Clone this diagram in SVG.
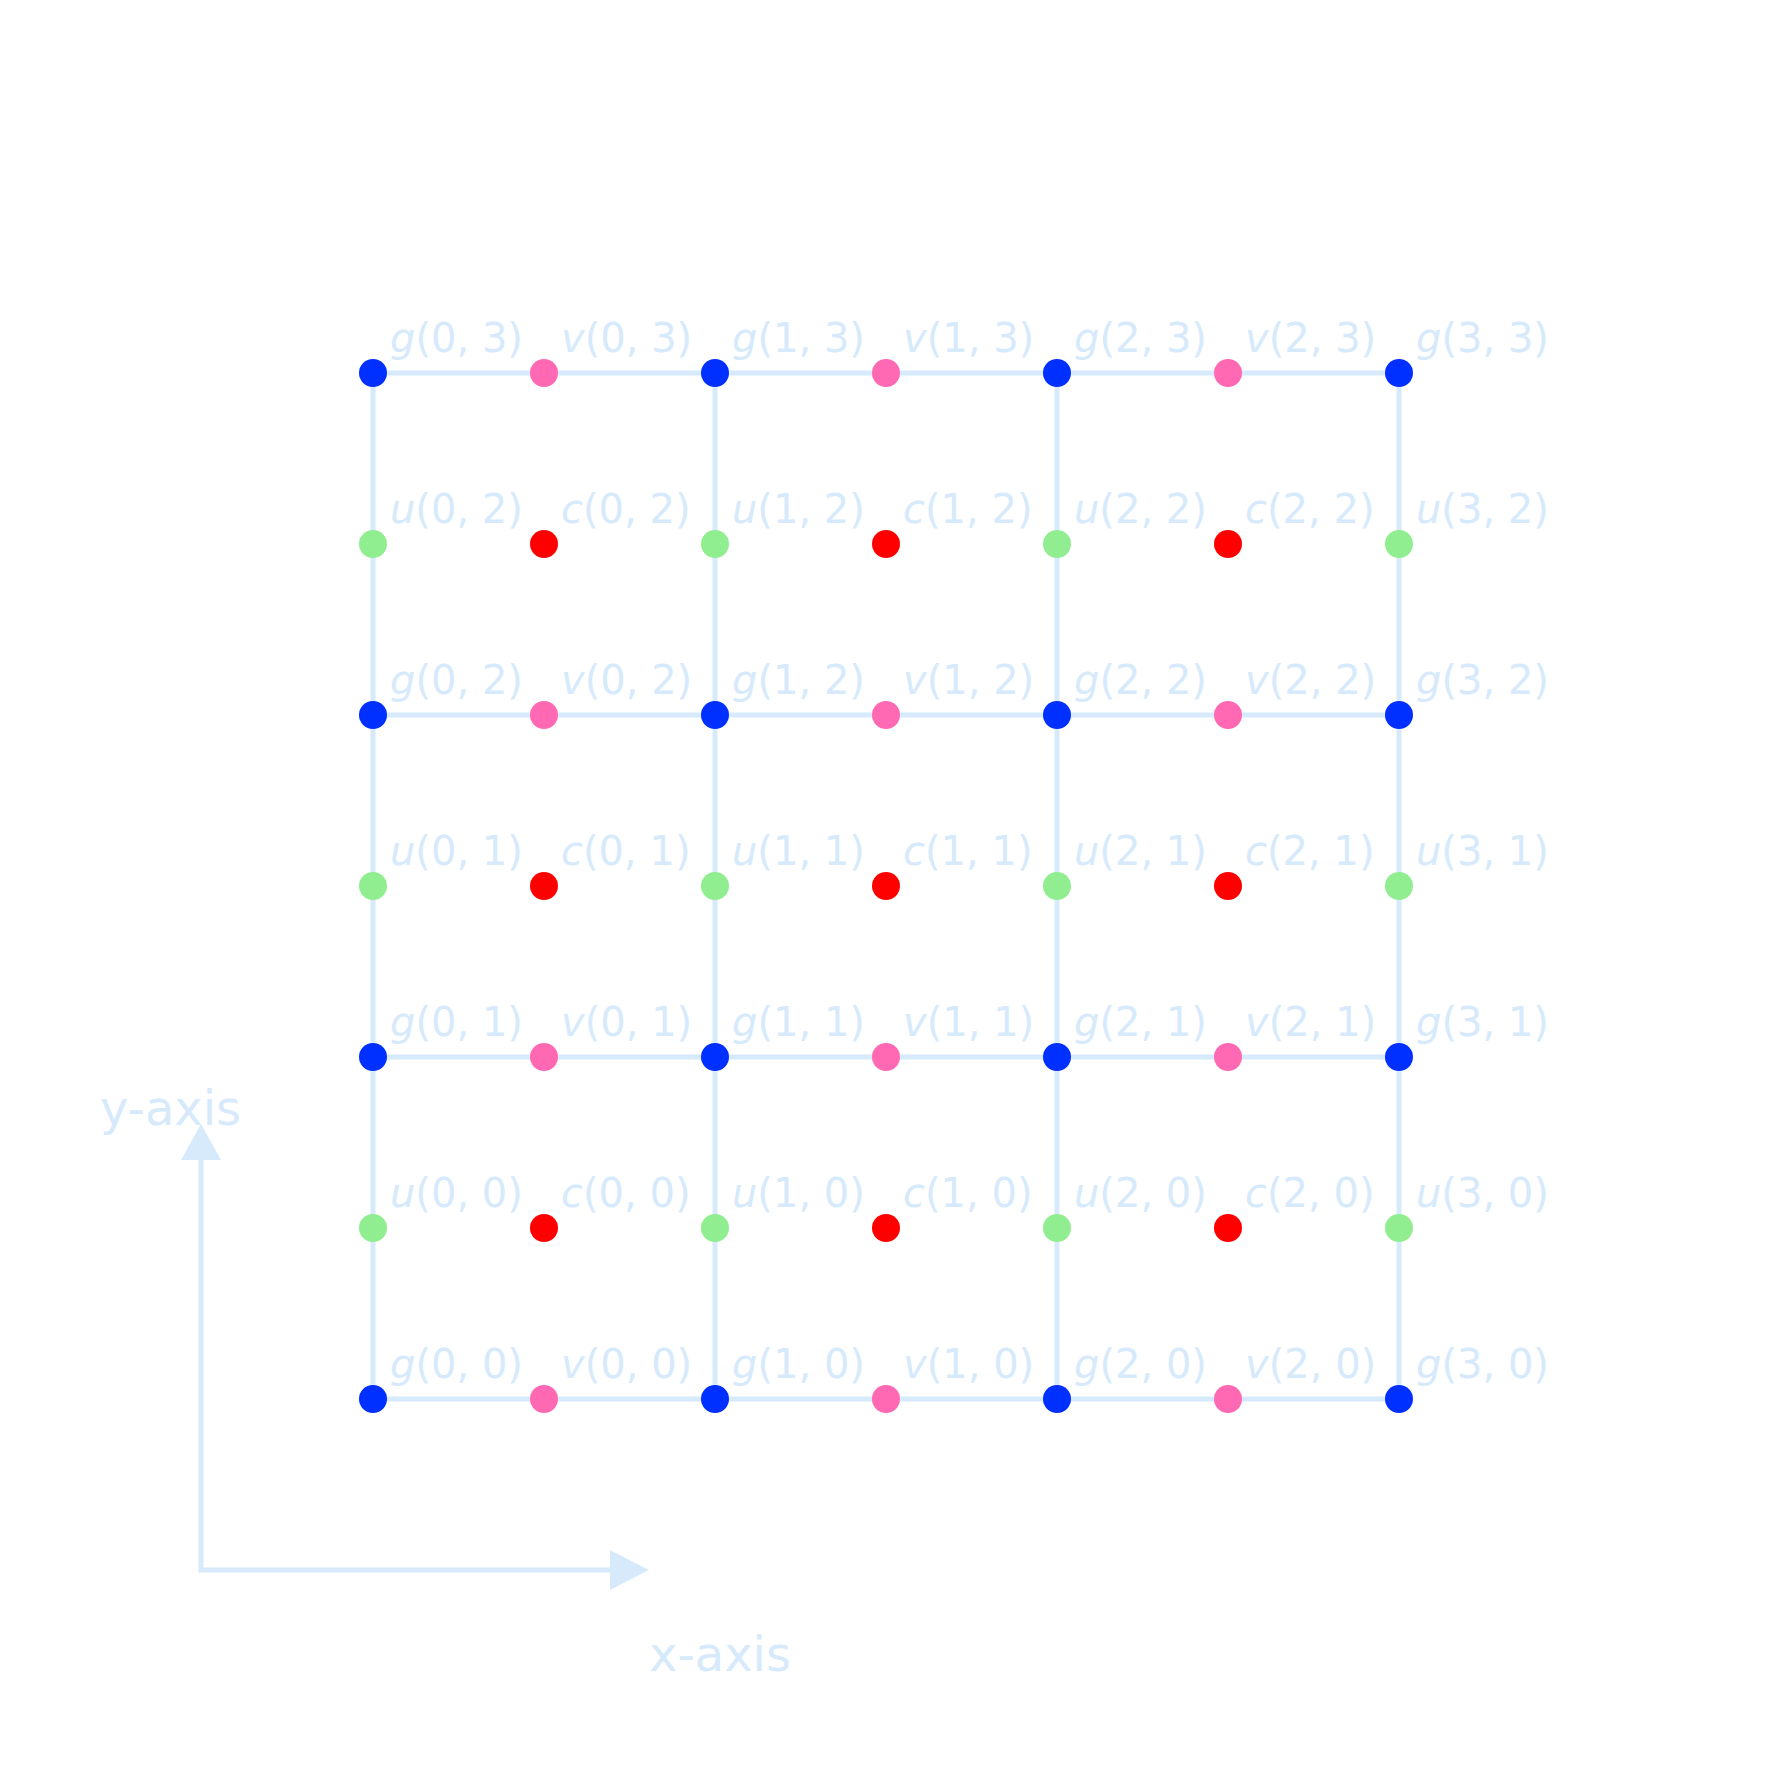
<svg xmlns="http://www.w3.org/2000/svg" width="1770" height="1770" viewBox="0 0 1770 1770">
<style>
.ln{stroke:#d6eafc;stroke-width:5;fill:none}
.g{fill:#0030ff}.v{fill:#ff69b4}.u{fill:#90ee90}.c{fill:#ff0000}
text{font-family:"DejaVu Sans",sans-serif;fill:#d6eafc}
.lb{font-size:40px}
.ax{font-size:48px}
</style>
<rect width="1770" height="1770" fill="#fff"/>
<g id="connectors">
<path class="ln" d="M373 373H1399M373 715H1399M373 1057H1399M373 1399H1399M373 373V1399M715 373V1399M1057 373V1399M1399 373V1399"/>
<path class="ln" d="M201 1155V1570H612"/>
<polygon points="201,1124 181,1160 221,1160" fill="#d6eafc"/>
<polygon points="649,1570 610,1550 610,1590" fill="#d6eafc"/>
</g>
<g id="axes-labels">
<text class="ax" x="100" y="1125">y-axis</text>
<text class="ax" x="649" y="1671">x-axis</text>
</g>
<g id="nodes">
<g id="row-g3">
<circle class="g" cx="373" cy="373" r="14"/><circle class="v" cx="544" cy="373" r="14"/><circle class="g" cx="715" cy="373" r="14"/><circle class="v" cx="886" cy="373" r="14"/><circle class="g" cx="1057" cy="373" r="14"/><circle class="v" cx="1228" cy="373" r="14"/><circle class="g" cx="1399" cy="373" r="14"/>
<text class="lb" x="390" y="352"><tspan font-style="italic">g</tspan>(0, 3)</text><text class="lb" x="561" y="352"><tspan font-style="italic">v</tspan>(0, 3)</text><text class="lb" x="732" y="352"><tspan font-style="italic">g</tspan>(1, 3)</text><text class="lb" x="903" y="352"><tspan font-style="italic">v</tspan>(1, 3)</text><text class="lb" x="1074" y="352"><tspan font-style="italic">g</tspan>(2, 3)</text><text class="lb" x="1245" y="352"><tspan font-style="italic">v</tspan>(2, 3)</text><text class="lb" x="1416" y="352"><tspan font-style="italic">g</tspan>(3, 3)</text>
</g>
<g id="row-u2">
<circle class="u" cx="373" cy="544" r="14"/><circle class="c" cx="544" cy="544" r="14"/><circle class="u" cx="715" cy="544" r="14"/><circle class="c" cx="886" cy="544" r="14"/><circle class="u" cx="1057" cy="544" r="14"/><circle class="c" cx="1228" cy="544" r="14"/><circle class="u" cx="1399" cy="544" r="14"/>
<text class="lb" x="390" y="523"><tspan font-style="italic">u</tspan>(0, 2)</text><text class="lb" x="561" y="523"><tspan font-style="italic">c</tspan>(0, 2)</text><text class="lb" x="732" y="523"><tspan font-style="italic">u</tspan>(1, 2)</text><text class="lb" x="903" y="523"><tspan font-style="italic">c</tspan>(1, 2)</text><text class="lb" x="1074" y="523"><tspan font-style="italic">u</tspan>(2, 2)</text><text class="lb" x="1245" y="523"><tspan font-style="italic">c</tspan>(2, 2)</text><text class="lb" x="1416" y="523"><tspan font-style="italic">u</tspan>(3, 2)</text>
</g>
<g id="row-g2">
<circle class="g" cx="373" cy="715" r="14"/><circle class="v" cx="544" cy="715" r="14"/><circle class="g" cx="715" cy="715" r="14"/><circle class="v" cx="886" cy="715" r="14"/><circle class="g" cx="1057" cy="715" r="14"/><circle class="v" cx="1228" cy="715" r="14"/><circle class="g" cx="1399" cy="715" r="14"/>
<text class="lb" x="390" y="694"><tspan font-style="italic">g</tspan>(0, 2)</text><text class="lb" x="561" y="694"><tspan font-style="italic">v</tspan>(0, 2)</text><text class="lb" x="732" y="694"><tspan font-style="italic">g</tspan>(1, 2)</text><text class="lb" x="903" y="694"><tspan font-style="italic">v</tspan>(1, 2)</text><text class="lb" x="1074" y="694"><tspan font-style="italic">g</tspan>(2, 2)</text><text class="lb" x="1245" y="694"><tspan font-style="italic">v</tspan>(2, 2)</text><text class="lb" x="1416" y="694"><tspan font-style="italic">g</tspan>(3, 2)</text>
</g>
<g id="row-u1">
<circle class="u" cx="373" cy="886" r="14"/><circle class="c" cx="544" cy="886" r="14"/><circle class="u" cx="715" cy="886" r="14"/><circle class="c" cx="886" cy="886" r="14"/><circle class="u" cx="1057" cy="886" r="14"/><circle class="c" cx="1228" cy="886" r="14"/><circle class="u" cx="1399" cy="886" r="14"/>
<text class="lb" x="390" y="865"><tspan font-style="italic">u</tspan>(0, 1)</text><text class="lb" x="561" y="865"><tspan font-style="italic">c</tspan>(0, 1)</text><text class="lb" x="732" y="865"><tspan font-style="italic">u</tspan>(1, 1)</text><text class="lb" x="903" y="865"><tspan font-style="italic">c</tspan>(1, 1)</text><text class="lb" x="1074" y="865"><tspan font-style="italic">u</tspan>(2, 1)</text><text class="lb" x="1245" y="865"><tspan font-style="italic">c</tspan>(2, 1)</text><text class="lb" x="1416" y="865"><tspan font-style="italic">u</tspan>(3, 1)</text>
</g>
<g id="row-g1">
<circle class="g" cx="373" cy="1057" r="14"/><circle class="v" cx="544" cy="1057" r="14"/><circle class="g" cx="715" cy="1057" r="14"/><circle class="v" cx="886" cy="1057" r="14"/><circle class="g" cx="1057" cy="1057" r="14"/><circle class="v" cx="1228" cy="1057" r="14"/><circle class="g" cx="1399" cy="1057" r="14"/>
<text class="lb" x="390" y="1036"><tspan font-style="italic">g</tspan>(0, 1)</text><text class="lb" x="561" y="1036"><tspan font-style="italic">v</tspan>(0, 1)</text><text class="lb" x="732" y="1036"><tspan font-style="italic">g</tspan>(1, 1)</text><text class="lb" x="903" y="1036"><tspan font-style="italic">v</tspan>(1, 1)</text><text class="lb" x="1074" y="1036"><tspan font-style="italic">g</tspan>(2, 1)</text><text class="lb" x="1245" y="1036"><tspan font-style="italic">v</tspan>(2, 1)</text><text class="lb" x="1416" y="1036"><tspan font-style="italic">g</tspan>(3, 1)</text>
</g>
<g id="row-u0">
<circle class="u" cx="373" cy="1228" r="14"/><circle class="c" cx="544" cy="1228" r="14"/><circle class="u" cx="715" cy="1228" r="14"/><circle class="c" cx="886" cy="1228" r="14"/><circle class="u" cx="1057" cy="1228" r="14"/><circle class="c" cx="1228" cy="1228" r="14"/><circle class="u" cx="1399" cy="1228" r="14"/>
<text class="lb" x="390" y="1207"><tspan font-style="italic">u</tspan>(0, 0)</text><text class="lb" x="561" y="1207"><tspan font-style="italic">c</tspan>(0, 0)</text><text class="lb" x="732" y="1207"><tspan font-style="italic">u</tspan>(1, 0)</text><text class="lb" x="903" y="1207"><tspan font-style="italic">c</tspan>(1, 0)</text><text class="lb" x="1074" y="1207"><tspan font-style="italic">u</tspan>(2, 0)</text><text class="lb" x="1245" y="1207"><tspan font-style="italic">c</tspan>(2, 0)</text><text class="lb" x="1416" y="1207"><tspan font-style="italic">u</tspan>(3, 0)</text>
</g>
<g id="row-g0">
<circle class="g" cx="373" cy="1399" r="14"/><circle class="v" cx="544" cy="1399" r="14"/><circle class="g" cx="715" cy="1399" r="14"/><circle class="v" cx="886" cy="1399" r="14"/><circle class="g" cx="1057" cy="1399" r="14"/><circle class="v" cx="1228" cy="1399" r="14"/><circle class="g" cx="1399" cy="1399" r="14"/>
<text class="lb" x="390" y="1378"><tspan font-style="italic">g</tspan>(0, 0)</text><text class="lb" x="561" y="1378"><tspan font-style="italic">v</tspan>(0, 0)</text><text class="lb" x="732" y="1378"><tspan font-style="italic">g</tspan>(1, 0)</text><text class="lb" x="903" y="1378"><tspan font-style="italic">v</tspan>(1, 0)</text><text class="lb" x="1074" y="1378"><tspan font-style="italic">g</tspan>(2, 0)</text><text class="lb" x="1245" y="1378"><tspan font-style="italic">v</tspan>(2, 0)</text><text class="lb" x="1416" y="1378"><tspan font-style="italic">g</tspan>(3, 0)</text>
</g>
</g>
</svg>
